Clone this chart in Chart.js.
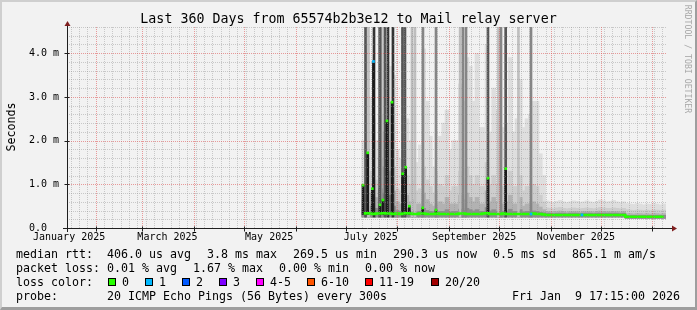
<!DOCTYPE html>
<html><head><meta charset="utf-8">
<script src="https://cdn.jsdelivr.net/npm/chart.js@4.4.1/dist/chart.umd.min.js"></script>
<style>
html,body{margin:0;padding:0;background:#f2f2f2;}
#wrap{position:relative;width:697px;height:310px;background:#f2f2f2;overflow:hidden;font-family:"DejaVu Sans Mono",monospace;color:#000;}
#frame{position:absolute;left:0;top:0;width:697px;height:310px;box-sizing:border-box;border-top:2px solid #cfcfcf;border-left:2px solid #cfcfcf;border-right:2px solid #9e9e9e;border-bottom:3px solid #9e9e9e;}
canvas{position:absolute;left:0;top:0;}
.t{position:absolute;white-space:pre;line-height:14px;font-size:11.63px;}
.box{position:absolute;width:6px;height:6px;border:1px solid #000;top:278px;}
#title{position:absolute;left:0;width:697px;top:11px;text-align:center;font-size:13.3px;line-height:16px;white-space:pre;}
#ylab{position:absolute;left:-19px;top:120px;width:60px;height:14px;line-height:14px;font-size:11.63px;text-align:center;transform:rotate(-90deg);}
#wm{position:absolute;left:628px;top:54px;width:120px;height:10px;line-height:10px;font-size:8.2px;text-align:center;transform:rotate(90deg);color:#a8a8a8;white-space:pre;}
</style></head>
<body>
<div id="wrap">
<div id="frame"></div>
<canvas id="c" width="697" height="310"></canvas>
<div id="title">Last 360 Days from 65574b2b3e12 to Mail relay server</div>
<div id="ylab">Seconds</div>
<div id="wm">RRDTOOL / TOBI OETIKER</div>
<div id="legend"></div>
</div>
<script>
// ---------- data ----------
const endTime = '2026-01-09 17:15';
const spanDays = 360;
const monthLabels = ['January 2025','March 2025','May 2025','July 2025','September 2025','November 2025'];
const monthLabelDates = ['2025-01-16','2025-03-16','2025-05-16','2025-07-16','2025-09-16','2025-11-16'];
const monthStarts = ['2025-02-01','2025-03-01','2025-04-01','2025-05-01','2025-06-01','2025-07-01','2025-08-01','2025-09-01','2025-10-01','2025-11-01','2025-12-01','2026-01-01'];
const yTickValues = [0, 1, 2, 3, 4];
const yTickLabels = ['0.0  ', '1.0 m', '2.0 m', '3.0 m', '4.0 m'];
const yMax = 4.6;

// smoke, two-day bins starting at binStart (values in milliseconds -> shown with "m")
const binStart = '2025-07-10 17:15';
const binDays = 2;
const smokeMax = [2.0,4.2,3.0,2.5,2.0,4.6,4.6,3.8,3.7,3.5,1.8,1.6,2.2,2.5,2.0,3.9,1.5,1.9,4.1,2.9,2.1,1.4,1.3,2.1,2.4,2.7,1.8,2.0,2.0,3.3,2.9,3.9,3.7,2.9,4.0,2.3,2.3,4.2,2.2,3.2,2.7,2.3,2.3,2.4,3.9,2.2,2.5,3.4,2.3,2.5,2.6,2.9,2.9,1.7,1.2,
  0.62,0.60,0.58,0.61,0.63,0.60,0.58,0.60,0.62,0.61,0.59,0.60,0.62,0.60,0.58,0.61,0.64,0.62,0.60,0.61,0.63,0.60,0.58,0.60,0.56,0.55,0.54,0.56,0.55,0.53,0.55,0.54,0.56,0.55,0.53,0.55];
const smokeHigh = [1.0,2.0,1.3,1.0,1.1,2.6,2.2,1.9,2.0,1.4,0.9,0.85,1.1,1.2,1.0,1.1,0.85,0.9,1.4,1.1,0.95,0.8,0.85,1.0,0.95,1.2,0.85,0.95,0.95,1.3,1.1,1.4,1.2,1.0,1.2,0.95,0.95,1.5,1.0,1.2,1.0,0.85,0.95,1.0,1.3,0.95,0.95,1.2,0.85,0.95,0.95,1.0,0.95,0.75,0.6,
  0.46,0.45,0.44,0.46,0.47,0.45,0.44,0.45,0.46,0.45,0.44,0.45,0.46,0.45,0.44,0.45,0.47,0.46,0.45,0.45,0.46,0.45,0.44,0.45,0.42,0.41,0.40,0.41,0.41,0.40,0.41,0.40,0.41,0.41,0.40,0.41];
const smokeMid = [0.65,1.2,0.8,0.65,0.7,1.6,1.4,1.2,1.3,0.85,0.6,0.55,0.7,0.75,0.6,0.65,0.55,0.55,0.8,0.65,0.55,0.5,0.55,0.6,0.55,0.7,0.55,0.55,0.55,0.75,0.65,0.8,0.7,0.6,0.7,0.55,0.55,0.85,0.6,0.7,0.6,0.5,0.55,0.6,0.75,0.55,0.55,0.7,0.5,0.55,0.55,0.6,0.55,0.48,0.42,
  0.38,0.38,0.37,0.38,0.39,0.38,0.37,0.38,0.38,0.38,0.37,0.38,0.38,0.38,0.37,0.38,0.39,0.38,0.38,0.38,0.38,0.38,0.37,0.38,0.33,0.33,0.32,0.33,0.33,0.32,0.33,0.32,0.33,0.33,0.32,0.33];
const smokeLow = [0.42,0.7,0.5,0.42,0.45,0.9,0.8,0.7,0.75,0.5,0.4,0.38,0.42,0.45,0.4,0.4,0.37,0.38,0.45,0.4,0.38,0.37,0.37,0.38,0.38,0.42,0.37,0.38,0.38,0.43,0.4,0.45,0.42,0.39,0.42,0.38,0.38,0.47,0.39,0.42,0.39,0.37,0.38,0.39,0.43,0.38,0.38,0.42,0.37,0.38,0.38,0.39,0.38,0.36,0.35,
  0.34,0.34,0.33,0.34,0.34,0.34,0.33,0.34,0.34,0.34,0.33,0.34,0.34,0.34,0.33,0.34,0.34,0.34,0.34,0.34,0.34,0.34,0.33,0.34,0.29,0.29,0.29,0.29,0.29,0.29,0.29,0.29,0.29,0.29,0.29,0.29];
const smokeMin = [0.25,0.25,0.25,0.25,0.25,0.25,0.25,0.25,0.25,0.25,0.25,0.25,0.25,0.25,0.25,0.25,0.25,0.25,0.25,0.25,0.25,0.25,0.25,0.25,0.25,0.25,0.25,0.25,0.25,0.25,0.25,0.25,0.25,0.25,0.25,0.25,0.25,0.25,0.25,0.25,0.25,0.25,0.25,0.25,0.25,0.25,0.25,0.25,0.25,0.25,0.25,0.25,0.25,0.25,0.25,
  0.25,0.25,0.25,0.25,0.25,0.25,0.25,0.25,0.25,0.25,0.25,0.25,0.25,0.25,0.25,0.25,0.25,0.25,0.25,0.25,0.25,0.25,0.25,0.25,0.22,0.22,0.22,0.22,0.22,0.22,0.22,0.22,0.22,0.22,0.22,0.22];
const medianRtt = [0.33,0.34,0.33,0.32,0.33,0.33,0.34,0.33,0.33,0.32,0.33,0.32,0.33,0.34,0.33,0.32,0.32,0.33,0.33,0.32,0.32,0.32,0.33,0.32,0.32,0.32,0.32,0.32,0.32,0.33,0.33,0.32,0.32,0.32,0.32,0.32,0.33,0.34,0.32,0.32,0.32,0.32,0.33,0.32,0.32,0.32,0.32,0.32,0.32,0.32,0.32,0.33,0.32,0.32,0.31,
  0.30,0.30,0.30,0.30,0.30,0.30,0.30,0.30,0.30,0.30,0.30,0.30,0.30,0.30,0.30,0.30,0.30,0.30,0.30,0.30,0.30,0.30,0.30,0.30,0.26,0.26,0.26,0.26,0.26,0.26,0.26,0.26,0.26,0.26,0.26,0.26];

// off-scale smoke streaks (reach the top of the graph)
const streakBase = 0.25;
const blackStreaks = ['2025-07-17 22:00','2025-07-26 07:00','2025-07-29 07:00'];
const darkStreaks = ['2025-07-12 20:00','2025-07-21 08:00','2025-07-24 12:00','2025-08-04 00:00','2025-08-05 12:00','2025-09-24 07:00','2025-10-04 22:00'];
const greyStreaks = ['2025-07-22 02:00','2025-08-16 07:00','2025-08-24 03:00','2025-09-09 07:00','2025-09-11 03:00','2025-10-02 03:00','2025-10-20 03:00'];
const lightStreaks = ['2025-07-14 14:00','2025-08-09 17:00','2025-08-11 12:00','2025-09-07 14:00','2025-09-30 14:00','2025-10-12 14:00'];

// high median readings
const spikeBase = 0.31;
const spikeDates = ['2025-07-11 08:00','2025-07-14 03:00','2025-07-16 22:00','2025-07-17 14:00','2025-07-21 12:00','2025-07-23 07:00','2025-07-25 17:00','2025-07-28 17:00','2025-08-04 02:00','2025-08-05 22:00','2025-08-08 03:00','2025-08-16 03:00','2025-08-24 03:00','2025-09-24 07:00','2025-10-04 22:00'];
const spikeValues = [0.98,1.72,0.9,3.81,0.53,0.64,2.45,2.88,1.24,1.39,0.5,0.46,0.41,1.14,1.36];
const spikeLoss = [0,0,0,1,0,0,0,0,0,0,0,0,0,0,0];
// isolated loss marks on the median
const lossDates = ['2025-10-20 03:00','2025-11-19 17:00'];
const lossValues = [0.32,0.30];
const lossCounts = [1,1];

// legend
const lossNames = ['0','1','2','3','4-5','6-10','11-19','20/20'];
const lossColors = ['#26ff00','#00b8ff','#0059ff','#7e00ff','#ff00ff','#ff5500','#ff0000','#a10000'];
const statsRtt = ['406.0 us avg','3.8 ms max','269.5 us min','290.3 us now','0.5 ms sd','865.1 m am/s'];
const statsLoss = ['0.01 % avg','1.67 % max','0.00 % min','0.00 % now'];
const probeText = '20 ICMP Echo Pings (56 Bytes) every 300s';
const stampText = 'Fri Jan  9 17:15:00 2026';

// ---------- helpers ----------
const DAY = 86400000;
function toMs(s){ const [d, tm='00:00'] = s.split(' '); const [Y,M,D] = d.split('-').map(Number); const [h,mi] = tm.split(':').map(Number); return Date.UTC(Y, M-1, D, h, mi); }
const endMs = toMs(endTime), startMs = endMs - spanDays*DAY;
const binX = smokeMax.map((_, i) => toMs(binStart) + (i*binDays + binDays/2)*DAY);
const band = (lo, hi) => lo.map((l, i) => ({x: binX[i], y: [l, hi[i]]}));
const streaks = arr => arr.map(s => ({x: toMs(s), y: [streakBase, yMax]}));
const lossColor = n => lossColors[n];

// ---------- legend (HTML text) ----------
(function(){
  const L = document.getElementById('legend');
  const add = (txt, x, y, extra) => { const d = document.createElement('div'); d.className = 't'; d.textContent = txt; d.style.left = x + 'px'; d.style.top = y + 'px'; if (extra) Object.assign(d.style, extra); L.appendChild(d); };
  const rttX = [107, 207, 293, 393, 493, 572];
  add('median rtt:', 16, 247); statsRtt.forEach((s, i) => add(s, rttX[i], 247));
  const lossX = [107, 193, 279, 365];
  add('packet loss:', 16, 261); statsLoss.forEach((s, i) => add(s, lossX[i], 261));
  add('loss color:', 16, 275);
  const boxX = [108, 145, 182, 219, 256, 307, 365, 431];
  lossNames.forEach((n, i) => { const b = document.createElement('div'); b.className = 'box'; b.style.left = boxX[i] + 'px'; b.style.background = lossColors[i]; L.appendChild(b); add(n, boxX[i] + 14, 275); });
  add('probe:', 16, 289); add(probeText, 107, 289);
  add(stampText, 0, 289, {left: 'auto', right: '17px'});
})();

// ---------- grid / axes plugin ----------
const rrdGrid = {
  id: 'rrdGrid',
  afterDatasetsDraw(chart){
    const {ctx, chartArea: a, scales: {x, y}} = chart;
    ctx.save();
    ctx.lineWidth = 1;
    ctx.setLineDash([1, 1]);
    const minorCol = 'rgba(143,143,143,0.42)', majorCol = 'rgba(222,80,80,0.55)';
    ctx.strokeStyle = minorCol;
    const majors = monthStarts.map(toMs);
    for (let t = Math.ceil(startMs/(5*DAY))*5*DAY; t <= endMs; t += 5*DAY) {
      if (majors.includes(t)) continue;
      const px = Math.round(x.getPixelForValue(t)) + 0.5;
      ctx.beginPath(); ctx.moveTo(px, a.bottom); ctx.lineTo(px, a.top); ctx.stroke();
    }
    for (let k = 1; k*0.2 <= yMax + 1e-9; k++) {
      if (k % 5 === 0) continue;
      const py = Math.round(y.getPixelForValue(k*0.2)) + 0.5;
      ctx.beginPath(); ctx.moveTo(a.left, py); ctx.lineTo(a.right, py); ctx.stroke();
    }
    ctx.strokeStyle = majorCol;
    majors.forEach(t => { const px = Math.round(x.getPixelForValue(t)) + 0.5; ctx.beginPath(); ctx.moveTo(px, a.bottom); ctx.lineTo(px, a.top); ctx.stroke(); });
    yTickValues.filter(v => v > 0).forEach(v => { const py = Math.round(y.getPixelForValue(v)) + 0.5; ctx.beginPath(); ctx.moveTo(a.left, py); ctx.lineTo(a.right, py); ctx.stroke(); });
    ctx.setLineDash([]);
    const x0 = Math.round(a.left) + 0.5, y0 = Math.round(y.getPixelForValue(0)) + 0.5;
    ctx.strokeStyle = '#1f1f1f';
    ctx.beginPath(); ctx.moveTo(a.left - 4, y0); ctx.lineTo(a.right + 5, y0); ctx.stroke();
    ctx.beginPath(); ctx.moveTo(x0, a.bottom + 4); ctx.lineTo(x0, a.top - 2); ctx.stroke();
    majors.forEach(t => { const px = Math.round(x.getPixelForValue(t)) + 0.5; ctx.beginPath(); ctx.moveTo(px, y0 - 2); ctx.lineTo(px, y0 + 3); ctx.stroke(); });
    yTickValues.forEach(v => { const py = Math.round(y.getPixelForValue(v)) + 0.5; ctx.beginPath(); ctx.moveTo(x0 - 3, py); ctx.lineTo(x0 + 2, py); ctx.stroke(); });
    ctx.fillStyle = '#7f1f1f';
    ctx.beginPath(); ctx.moveTo(a.right + 5, y0 - 3); ctx.lineTo(a.right + 10, y0); ctx.lineTo(a.right + 5, y0 + 3); ctx.closePath(); ctx.fill();
    ctx.beginPath(); ctx.moveTo(x0 - 3, a.top - 1); ctx.lineTo(x0, a.top - 6); ctx.lineTo(x0 + 3, a.top - 1); ctx.closePath(); ctx.fill();
    ctx.restore();
  }
};

// ---------- chart ----------
Chart.defaults.font.family = '"DejaVu Sans Mono", monospace';
const barDs = (data, color, thick, order) => ({type: 'bar', data, backgroundColor: color, barThickness: thick, grouped: false, borderWidth: 0, order});
new Chart(document.getElementById('c'), {
  type: 'bar',
  data: {
    datasets: [
      barDs(band(smokeMin, smokeMax), '#dedede', 3.9, 20),
      barDs(band(smokeMin, smokeHigh), '#cdcdcd', 3.9, 19),
      barDs(band(smokeMin, smokeMid), '#b2b2b2', 3.9, 18),
      barDs(band(smokeMin, smokeLow), '#8e8e8e', 3.9, 17),
      barDs(streaks(lightStreaks), '#bebebe', 2, 16),
      barDs(streaks(greyStreaks), '#858585', 2, 15),
      barDs(streaks(darkStreaks), '#555555', 2, 14),
      barDs(streaks(blackStreaks), '#333333', 2, 14),
      barDs(spikeDates.map((s, i) => ({x: toMs(s), y: [spikeBase, spikeValues[i]]})), '#1a1a1a', 2, 13),
      {type: 'line', data: medianRtt.map((v, i) => ({x: binX[i], y: v})), borderColor: '#26ff00', borderWidth: 2.5, pointRadius: 0, stepped: 'middle', order: 12},
      {type: 'line', data: spikeDates.map((s, i) => ({x: toMs(s), y: spikeValues[i]})), showLine: false, pointStyle: 'rect', pointRadius: 1.9, borderWidth: 0,
        pointBackgroundColor: spikeLoss.map(lossColor), order: 11},
      {type: 'line', data: lossDates.map((s, i) => ({x: toMs(s), y: lossValues[i]})), showLine: false, pointStyle: 'rect', pointRadius: 1.9, borderWidth: 0,
        pointBackgroundColor: lossCounts.map(lossColor), order: 10}
    ]
  },
  options: {
    responsive: false, devicePixelRatio: 1, animation: false,
    layout: {padding: {left: 0, right: 30, top: 27, bottom: 0}},
    plugins: {legend: {display: false}, tooltip: {enabled: false}, title: {display: false}},
    scales: {
      x: {type: 'linear', min: startMs, max: endMs, offset: false,
        grid: {display: false, drawTicks: false}, border: {display: false},
        afterFit: s => { s.height = 82; },
        afterBuildTicks: s => { s.ticks = monthLabelDates.map(d => ({value: toMs(d)})); },
        ticks: {autoSkip: false, maxRotation: 0, padding: 3, color: '#000', font: {size: 10},
          callback: (v, i) => monthLabels[i]}},
      y: {min: 0, max: yMax,
        grid: {display: false, drawTicks: false}, border: {display: false},
        afterFit: s => { s.width = 67; },
        afterBuildTicks: s => { s.ticks = yTickValues.map(v => ({value: v})); },
        ticks: {padding: 8, color: '#000', font: {size: 10}, callback: (v, i) => yTickLabels[i]}}
    }
  },
  plugins: [rrdGrid]
});
</script>
</body></html>
